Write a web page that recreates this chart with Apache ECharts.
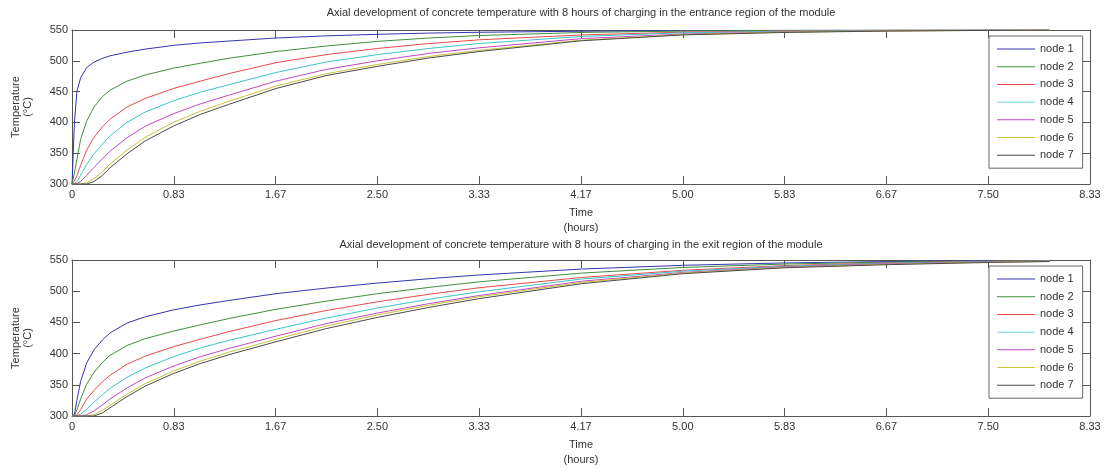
<!DOCTYPE html>
<html>
<head>
<meta charset="utf-8">
<script src="https://cdn.jsdelivr.net/npm/echarts@6/dist/echarts.min.js"></script>
<style>
html,body{margin:0;padding:0;background:#fff;}
#chart{width:1108px;height:468px;}
</style>
</head>
<body>
<div id="chart"></div>
<script>
// ---- data (time in hours, temperature in °C) ----
const timeHours = [0, 0.02, 0.04, 0.07, 0.12, 0.18, 0.25, 0.31, 0.45, 0.6, 0.83, 1.05, 1.28, 1.67, 2.08, 2.5, 2.92, 3.33, 4.17, 5.0, 5.83, 6.67, 7.5, 8.0];
const nodeNames = ['node 1', 'node 2', 'node 3', 'node 4', 'node 5', 'node 6', 'node 7'];
const xTickLabels = ['0', '0.83', '1.67', '2.50', '3.33', '4.17', '5.00', '5.83', '6.67', '7.50', '8.33'];
const yTickLabels = ['300', '350', '400', '450', '500', '550'];

const entranceNode1 = [300, 400, 450, 472, 489, 498, 504, 508, 514, 519, 525, 529, 532, 537, 540.5, 543, 545, 546.3, 548, 549, 549.5, 549.7, 549.9, 550];
const entranceNode2 = [300, 318, 340, 372, 402, 425, 442, 452, 467, 477, 488, 496, 504, 515, 524, 531.5, 537, 541, 546, 548.3, 549.3, 549.7, 549.9, 550];
const entranceNode3 = [300, 305, 314, 330, 355, 376, 393, 405, 425, 439, 455, 467, 479, 497, 510, 520, 528, 534, 542, 546.5, 548.5, 549.4, 549.8, 550];
const entranceNode4 = [300, 301, 304, 314, 332, 349, 365, 378, 400, 417, 435, 449, 461, 481, 498, 510, 520, 528, 539.5, 545.5, 548, 549.2, 549.7, 550];
const entranceNode5 = [300, 300, 301, 304, 314, 327, 341, 353, 375, 394, 414, 430, 444, 467, 486, 500, 512, 521, 536, 543.5, 547, 548.7, 549.5, 549.8];
const entranceNode6 = [300, 300, 300, 300, 302, 309, 320, 332, 355, 376, 400, 418, 434, 459, 479, 494, 507, 517, 533.5, 542.5, 546.5, 548.5, 549.4, 549.7];
const entranceNode7 = [300, 300, 300, 300, 300, 304, 314, 326, 349, 370, 394, 413, 429, 455, 476, 491, 504.5, 515, 532.5, 542, 546, 548.3, 549.3, 549.7];

const exitNode1 = [300, 303, 325, 355, 385, 406, 422, 433, 449, 459, 470, 478, 485, 496, 505, 513, 520, 526, 535.5, 541.5, 545.3, 547.5, 548.7, 549.2];
const exitNode2 = [300, 300, 310, 327, 351, 370, 386, 397, 413, 424, 436, 446, 456, 471, 484, 496, 506, 515, 529, 538, 543.5, 546.5, 548.2, 548.8];
const exitNode3 = [300, 300, 302, 310, 327, 341, 355, 365, 383, 396, 411, 423, 435, 453, 469, 483, 495, 505.5, 522, 533.5, 541, 545.5, 547.7, 548.5];
const exitNode4 = [300, 300, 300, 303, 311, 322, 334, 344, 362, 377, 395, 409, 421, 439, 457, 473, 487, 499, 519.5, 532, 540, 545, 547.5, 548.3];
const exitNode5 = [300, 300, 300, 300, 302, 308, 318, 327, 345, 361, 380, 395, 408, 428, 448, 465, 480, 493, 516, 530, 539, 544, 547, 548];
const exitNode6 = [300, 300, 300, 300, 300, 302, 309, 317, 335, 352, 372, 388, 402, 423, 444, 462, 477.5, 491, 514, 529, 538, 543, 546.5, 547.8];
const exitNode7 = [300, 300, 300, 300, 300, 300, 305, 313, 331, 348, 368, 384, 398, 419, 440, 458, 474, 488, 512, 528, 537.5, 542.5, 546, 547.5];

const entranceSeries = [entranceNode1, entranceNode2, entranceNode3, entranceNode4, entranceNode5, entranceNode6, entranceNode7];
const exitSeries = [exitNode1, exitNode2, exitNode3, exitNode4, exitNode5, exitNode6, exitNode7];

const titleTop = 'Axial development of concrete temperature with 8 hours of charging in the entrance region of the module';
const titleBottom = 'Axial development of concrete temperature with 8 hours of charging in the exit region of the module';

// ---- styling ----
const colors = ['#3434b0', '#3f8f3f', '#e84a4a', '#3cc4c8', '#c048c0', '#c8c23a', '#4a4a4a'];
const FONT = 'Liberation Sans, Arial, sans-serif';
const axisColor = '#555';
const textColor = '#333';

// x axis runs in minutes internally so ticks fall exactly every 50 min (0.83 h)
const X_MAX_MIN = 500, X_STEP_MIN = 50;
function xLabel(v) { const i = Math.round(v / X_STEP_MIN); return xTickLabels[i] !== undefined ? xTickLabels[i] : ''; }
function yLabel(v) { const i = Math.round((v - 300) / 50); return yTickLabels[i] !== undefined ? yTickLabels[i] : ''; }

const grids = [
  { left: 72, top: 30, width: 1018, height: 154 },
  { left: 72, top: 260, width: 1018, height: 156 }
];

const xAxes = [], yAxes = [];
grids.forEach((g, gi) => {
  const tick = { show: true, inside: true, length: 8, lineStyle: { color: axisColor, width: 1 } };
  const line = { show: true, onZero: false, lineStyle: { color: axisColor, width: 1 } };
  xAxes.push({
    type: 'value', gridIndex: gi, position: 'bottom', min: 0, max: X_MAX_MIN, interval: X_STEP_MIN,
    axisLine: line, axisTick: tick, splitLine: { show: false },
    axisLabel: { formatter: xLabel, margin: 5, color: textColor, fontSize: 11, fontFamily: FONT },
    name: 'Time\n(hours)', nameLocation: 'middle', nameGap: 21,
    nameTextStyle: { color: textColor, fontSize: 11, fontFamily: FONT, lineHeight: 15, verticalAlign: 'top' }
  });
  xAxes.push({
    type: 'value', gridIndex: gi, position: 'top', min: 0, max: X_MAX_MIN, interval: X_STEP_MIN,
    axisLine: line, axisTick: tick, axisLabel: { show: false }, splitLine: { show: false }
  });
  yAxes.push({
    type: 'value', gridIndex: gi, position: 'left', min: 300, max: 550, interval: 50,
    axisLine: line, axisTick: tick, splitLine: { show: false },
    axisLabel: { formatter: yLabel, margin: 4, color: textColor, fontSize: 11, fontFamily: FONT },
    name: 'Temperature\n(°C)', nameLocation: 'middle', nameRotate: 90, nameGap: 38,
    nameTextStyle: { color: textColor, fontSize: 11, fontFamily: FONT, lineHeight: 12 }
  });
  yAxes.push({
    type: 'value', gridIndex: gi, position: 'right', min: 300, max: 550, interval: 50,
    axisLine: line, axisTick: tick, axisLabel: { show: false }, splitLine: { show: false }
  });
});

const series = [];
[entranceSeries, exitSeries].forEach((set, gi) => {
  set.forEach((vals, ni) => {
    series.push({
      type: 'line', name: nodeNames[ni],
      xAxisIndex: gi * 2, yAxisIndex: gi * 2,
      data: timeHours.map((t, k) => [t * 60, vals[k]]),
      showSymbol: false, symbol: 'none',
      smooth: false,
      lineStyle: { width: 1, color: colors[ni] },
      itemStyle: { color: colors[ni] },
      emphasis: { disabled: true },
      animation: false
    });
  });
});

const legendBase = {
  orient: 'vertical', left: 989, data: nodeNames,
  icon: 'path://M0,0 L40,0 L40,1 L0,1 Z',
  itemWidth: 38, itemHeight: 1, itemGap: 3.7,
  padding: [6, 9, 6, 8],
  backgroundColor: '#fff', borderColor: '#666', borderWidth: 1,
  textStyle: { color: textColor, fontSize: 11, fontFamily: FONT, lineHeight: 14 },
  selectedMode: false
};

const option = {
  backgroundColor: '#fff',
  animation: false,
  grid: grids,
  xAxis: xAxes,
  yAxis: yAxes,
  legend: [
    Object.assign({}, legendBase, { top: 36 }),
    Object.assign({}, legendBase, { top: 266 })
  ],
  graphic: [
    { type: 'text', x: 581, y: 13, style: { text: titleTop, align: 'center', verticalAlign: 'middle', fill: textColor, font: '11px ' + FONT } },
    { type: 'text', x: 581, y: 245, style: { text: titleBottom, align: 'center', verticalAlign: 'middle', fill: textColor, font: '11px ' + FONT } }
  ],
  series: series
};

const chart = echarts.init(document.getElementById('chart'), null, { renderer: 'canvas' });
chart.setOption(option);
</script>
</body>
</html>
